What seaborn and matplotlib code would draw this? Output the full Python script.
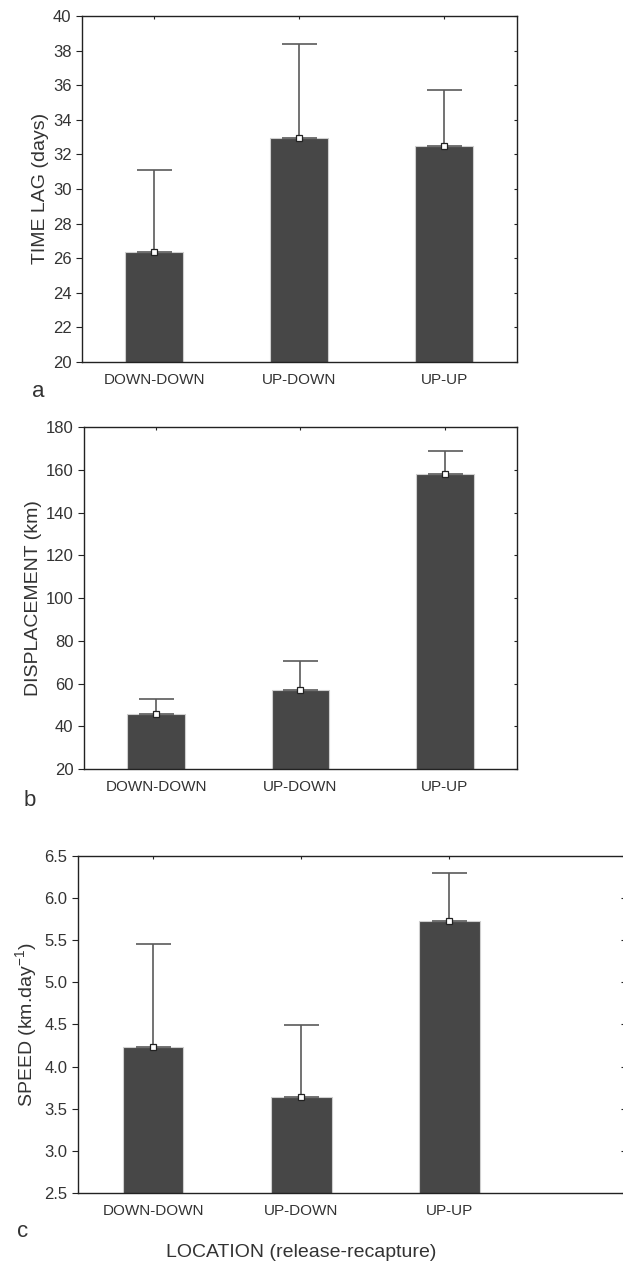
#!/usr/bin/env python3
"""Three-panel bar chart: time lag, displacement and speed by release-recapture location."""

import matplotlib
matplotlib.use("Agg")
import matplotlib.pyplot as plt
import pandas as pd
import seaborn as sns

# data
locations = ["DOWN-DOWN", "UP-DOWN", "UP-UP"]

time_lag_mean = [26.35, 32.95, 32.5]
time_lag_upper = [31.1, 38.4, 35.7]

displacement_mean = [45.9, 56.9, 158.2]
displacement_upper = [52.6, 70.5, 168.9]

speed_mean = [4.235, 3.635, 5.725]
speed_upper = [5.46, 4.49, 6.30]

BAR_COLOR = "#474747"
ERR_COLOR = "#5a5a5a"
TEXT_COLOR = "#333333"
LINE_COLOR = "#222222"

sns.set_theme(style="white")
plt.rcParams["font.family"] = ["Liberation Sans", "DejaVu Sans"]


def draw_panel(ax, means, upper, ylim, yticks, ylabel, xlim, width=0.4):
    df = pd.DataFrame({"location": locations, "value": means})
    sns.barplot(data=df, x="location", y="value", ax=ax, color=BAR_COLOR,
                saturation=1, width=width, errorbar=None,
                edgecolor="#cfcfcf", linewidth=0.8)
    # upper error bars only
    yerr = [[0] * len(means), [u - m for u, m in zip(upper, means)]]
    ax.errorbar(range(len(means)), means, yerr=yerr, fmt="none",
                ecolor=ERR_COLOR, elinewidth=1.2, capsize=12.6, capthick=1.2,
                zorder=3)
    ax.plot(range(len(means)), means, linestyle="none", marker="s",
            markersize=3.8, markerfacecolor="white", markeredgecolor=LINE_COLOR,
            markeredgewidth=0.9, zorder=4)

    ax.set_ylim(*ylim)
    ax.set_yticks(yticks)
    ax.set_xlim(*xlim)
    ax.set_xlabel("")
    ax.set_ylabel(ylabel, fontsize=14, color=TEXT_COLOR, labelpad=3)
    ax.tick_params(axis="y", direction="out", length=4, width=0.8,
                   left=True, right=False, labelsize=12,
                   labelcolor=TEXT_COLOR, color=LINE_COLOR)
    ax.tick_params(axis="x", direction="in", length=2, width=0.8,
                   bottom=True, top=True, pad=8, labelsize=11,
                   labelcolor=TEXT_COLOR, color=LINE_COLOR)
    for side in ["left", "bottom", "top", "right"]:
        ax.spines[side].set_color(LINE_COLOR)
        ax.spines[side].set_linewidth(1.0)
    # tiny inward ticks on the right spine
    sec = ax.secondary_yaxis("right")
    sec.set_yticks(yticks)
    sec.tick_params(direction="in", length=2.5, width=0.8, labelright=False,
                    color=LINE_COLOR)
    sec.spines["right"].set_visible(False)
    ax.grid(False)
    return sec


fig = plt.figure(figsize=(6.23, 12.62), dpi=100)

ax_a = fig.add_axes([0.1316, 0.7132, 0.6982, 0.2742])
draw_panel(ax_a, time_lag_mean, time_lag_upper, (20, 40), range(20, 41, 2),
           "TIME LAG (days)", (-0.5, 2.5))

ax_b = fig.add_axes([0.1348, 0.3906, 0.6950, 0.2710])
draw_panel(ax_b, displacement_mean, displacement_upper, (20, 180),
           range(20, 181, 20), "DISPLACEMENT (km)", (-0.5, 2.5))

ax_c = fig.add_axes([0.1252, 0.0547, 0.8764, 0.2670])
speed_ticks = [2.5, 3.0, 3.5, 4.0, 4.5, 5.0, 5.5, 6.0, 6.5]
draw_panel(ax_c, speed_mean, speed_upper, (2.5, 6.5), speed_ticks,
           "SPEED (km.day$^{\\mathregular{-1}}$)", (-0.507, 3.18), width=0.41)
ax_c.set_yticklabels([f"{v:.1f}" for v in speed_ticks])
ax_c.set_xlabel("LOCATION (release-recapture)", fontsize=14, color=TEXT_COLOR)
ax_c.xaxis.set_label_coords(0.408, -0.15)

# panel letters
fig.text(0.061, 0.690, "a", fontsize=16, color=TEXT_COLOR, ha="center", va="center")
fig.text(0.048, 0.366, "b", fontsize=16, color=TEXT_COLOR, ha="center", va="center")
fig.text(0.036, 0.024, "c", fontsize=16, color=TEXT_COLOR, ha="center", va="center")

fig.savefig("out.png", dpi=100, facecolor="white")
